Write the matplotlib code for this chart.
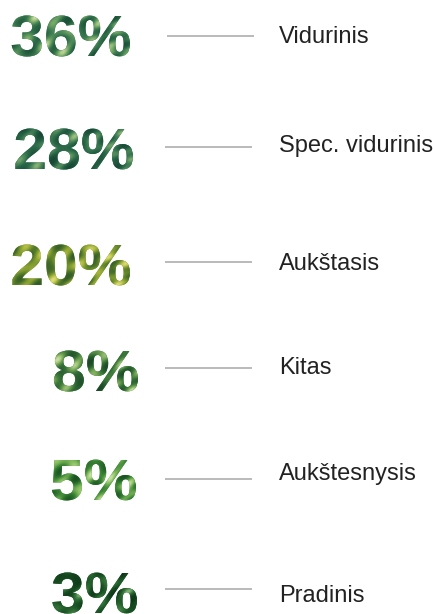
import numpy as np
import matplotlib
matplotlib.use("Agg")
import matplotlib.pyplot as plt
from matplotlib.textpath import TextPath
from matplotlib.font_manager import FontProperties
from matplotlib.patches import PathPatch
from matplotlib.transforms import Affine2D
from matplotlib.colors import LinearSegmentedColormap

# ---- data ----
categories = ["Vidurinis", "Spec. vidurinis", "Aukštasis", "Kitas", "Aukštesnysis", "Pradinis"]
shares = [36, 28, 20, 8, 5, 3]

# ---- layout (pixels, y downward) ----
W, H = 433, 614
num_right = [130, 133, 130, 138, 136, 137]
num_center = [36, 149, 265, 371, 480, 593]
line_y = [36, 147, 262, 368, 479, 589]
line_x = [(167, 254), (165, 252), (165, 252), (165, 252), (165, 252), (165, 252)]
label_base = [43, 152, 270, 374, 480, 602]
label_x = 279

# texture palettes (leaf-like green fill of the numbers)
palettes = [
    ["#1c5238", "#3a7a50", "#78aa68", "#cfe2a4"],
    ["#184a36", "#2c6a4a", "#57905e", "#a6c882"],
    ["#2c5628", "#6a8c2c", "#a8b63c", "#e0de78"],
    ["#1c4a28", "#3a763a", "#78a858", "#c8e0a0"],
    ["#1a5422", "#3c8636", "#86bc5e", "#d0e8b0"],
    ["#0e3818", "#1e5828", "#3c7c40", "#98c68c"],
]

fig = plt.figure(figsize=(W / 100, H / 100), dpi=100)
ax = fig.add_axes([0, 0, 1, 1])
ax.set_xlim(0, W)
ax.set_ylim(H, 0)
ax.axis("off")

fp = FontProperties(family="Liberation Sans", weight="bold")

for i, (cat, v) in enumerate(zip(categories, shares)):
    tp = TextPath((0, 0), f"{v}%", size=58, prop=fp)
    ext = tp.get_extents()
    tr = (Affine2D()
          .translate(-ext.x1, -(ext.y0 + ext.y1) / 2)
          .scale(1.045, -1.0)
          .translate(num_right[i], num_center[i]))
    path = tr.transform_path(tp)
    pe = path.get_extents()
    base = PathPatch(path, transform=ax.transData, facecolor=palettes[i][1],
                     edgecolor="none", zorder=2)
    ax.add_patch(base)
    clip = PathPatch(path, transform=ax.transData, facecolor="none",
                     edgecolor="none")
    ax.add_patch(clip)
    nx, ny = int(pe.width) + 4, int(pe.height) + 4
    X, Y = np.meshgrid(np.arange(nx), np.arange(ny))
    ph = i * 1.7
    val = (np.sin(0.29 * X + 0.13 * Y + ph)
           + 0.8 * np.sin(0.11 * X - 0.27 * Y + 2 * ph)
           + 0.6 * np.sin(0.45 * (X * 0.6 + Y * 0.8) + 0.5 * ph)
           + 0.5 * np.cos(0.19 * X * Y / 30.0 + ph))
    val = (val - val.min()) / (val.max() - val.min())
    val = val ** 1.5
    cmap = LinearSegmentedColormap.from_list(f"p{i}", palettes[i])
    im = ax.imshow(val, extent=(pe.x0 - 2, pe.x1 + 2, pe.y1 + 2, pe.y0 - 2),
                   cmap=cmap, interpolation="bilinear", aspect="auto", zorder=3)
    im.set_clip_path(clip)

    x0, x1 = line_x[i]
    ax.plot([x0, x1], [line_y[i], line_y[i]], color="#b4b4b4", lw=1.3,
            solid_capstyle="butt", zorder=1)
    ax.text(label_x, label_base[i], cat, fontsize=17, family="Liberation Sans",
            color="#222222", ha="left", va="baseline")

ax.set_xlim(0, W)
ax.set_ylim(H, 0)
fig.savefig("out.png", dpi=100)
